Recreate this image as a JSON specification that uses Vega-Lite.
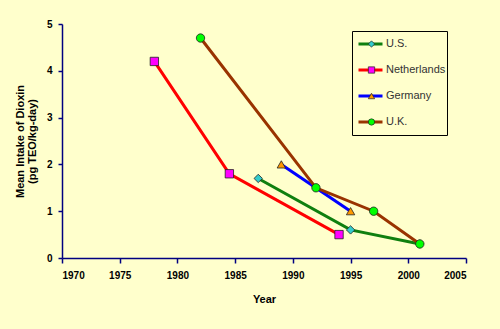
{
  "$schema": "https://vega.github.io/schema/vega-lite/v6.json",
  "width": 404,
  "height": 234,
  "autosize": {"type": "none"},
  "padding": {"left": 62, "top": 24, "right": 34, "bottom": 71},
  "background": "#FFFFCC",
  "config": {
    "view": {"stroke": null},
    "font": "Liberation Sans",
    "axis": {
      "domainColor": "#000080",
      "domainWidth": 1.5,
      "tickColor": "#000080",
      "tickWidth": 1.5,
      "grid": false,
      "labelFont": "Liberation Sans",
      "labelFontWeight": "bold",
      "labelFontSize": 10,
      "labelColor": "#000000",
      "titleFont": "Liberation Sans",
      "titleFontWeight": "bold",
      "titleFontSize": 11,
      "titleColor": "#000000"
    },
    "legend": {
      "labelFont": "Liberation Sans",
      "labelFontSize": 11,
      "labelColor": "#333333"
    }
  },
  "data": {
    "values": [
      {"country": "U.S.", "year": 1987, "value": 1.7},
      {"country": "U.S.", "year": 1995, "value": 0.6},
      {"country": "U.S.", "year": 2001, "value": 0.3},
      {"country": "Netherlands", "year": 1978, "value": 4.2},
      {"country": "Netherlands", "year": 1984.5, "value": 1.8},
      {"country": "Netherlands", "year": 1994, "value": 0.5},
      {"country": "Germany", "year": 1989, "value": 2.0},
      {"country": "Germany", "year": 1995, "value": 1.0},
      {"country": "U.K.", "year": 1982, "value": 4.7},
      {"country": "U.K.", "year": 1992, "value": 1.5},
      {"country": "U.K.", "year": 1997, "value": 1.0},
      {"country": "U.K.", "year": 2001, "value": 0.3}
    ]
  },
  "encoding": {
    "x": {
      "field": "year",
      "type": "quantitative",
      "scale": {"domain": [1970, 2005], "nice": false, "zero": false},
      "axis": {"title": "Year", "values": [1970, 1975, 1980, 1985, 1990, 1995, 2000, 2005], "format": "d", "tickSize": 5, "labelPadding": 7, "titlePadding": 13}
    },
    "y": {
      "field": "value",
      "type": "quantitative",
      "scale": {"domain": [0, 5], "nice": false},
      "axis": {"title": ["Mean Intake of Dioxin", "(pg TEO/kg-day)"], "values": [0, 1, 2, 3, 4, 5], "tickSize": 4, "labelPadding": 6, "titlePadding": 9, "titleLineHeight": 12}
    }
  },
  "layer": [
    {
      "mark": {"type": "line", "strokeWidth": 3},
      "encoding": {
        "stroke": {
          "field": "country",
          "type": "nominal",
          "scale": {
            "domain": ["U.S.", "Netherlands", "Germany", "U.K."],
            "range": ["#0F7F0F", "#FF0000", "#0000FF", "#993300"]
          },
          "legend": {
            "title": null,
            "orient": "none",
            "legendX": 290,
            "legendY": 7,
            "padding": 1,
            "symbolType": "stroke",
            "symbolSize": 576,
            "symbolStrokeWidth": 3,
            "symbolOffset": 4,
            "labelOffset": 2,
            "clipHeight": 24,
            "strokeColor": "#000000"
          }
        }
      }
    },
    {
      "mark": {"type": "point", "filled": true, "opacity": 1, "stroke": "#222222", "strokeWidth": 0.8, "size": 70},
      "encoding": {
        "fill": {
          "field": "country",
          "type": "nominal",
          "scale": {
            "domain": ["Germany", "Netherlands", "U.K.", "U.S."],
            "range": ["#FF9900", "#FF00FF", "#00FF00", "#33CCCC"]
          },
          "legend": {
            "title": null,
            "orient": "none",
            "legendX": 304,
            "legendY": 8,
            "padding": 0,
            "values": ["U.S.", "Netherlands", "Germany", "U.K."],
            "symbolSize": 40,
            "symbolStrokeWidth": 0.7,
            "labelExpr": "''",
            "clipHeight": 24
          }
        },
        "shape": {
          "field": "country",
          "type": "nominal",
          "scale": {
            "domain": ["Germany", "Netherlands", "U.K.", "U.S."],
            "range": ["triangle-up", "square", "circle", "diamond"]
          },
          "legend": {
            "title": null,
            "orient": "none",
            "legendX": 304,
            "legendY": 8,
            "padding": 0,
            "values": ["U.S.", "Netherlands", "Germany", "U.K."],
            "symbolSize": 40,
            "symbolStrokeWidth": 0.7,
            "labelExpr": "''",
            "clipHeight": 24
          }
        }
      }
    }
  ]
}
